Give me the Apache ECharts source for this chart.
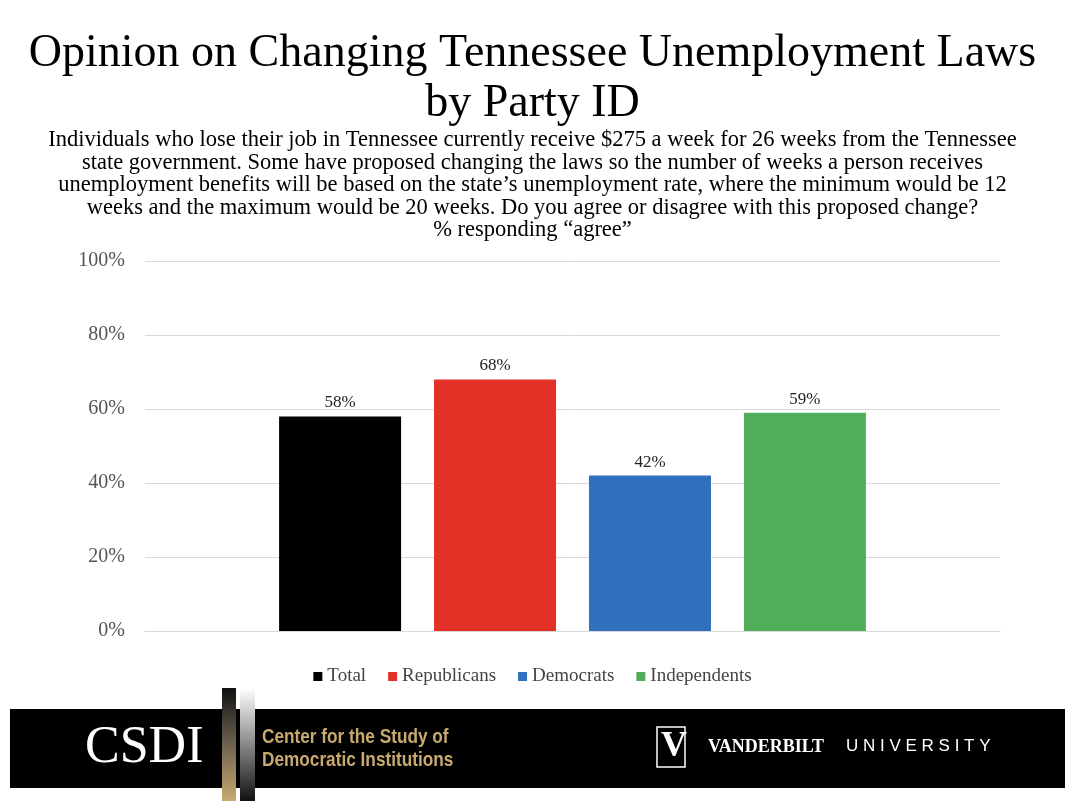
<!DOCTYPE html>
<html><head><meta charset="utf-8">
<script src="https://cdn.jsdelivr.net/npm/echarts@6/dist/echarts.min.js"></script>
<style>html,body{margin:0;padding:0;background:#fff}#c{width:1065px;height:801px}</style>
</head><body><div id="c"></div>
<script>
const seriesNames = ['Total','Republicans','Democrats','Independents'];
const values = [58, 68, 42, 59];
const colors = ['#000000','#e33127','#3070bf','#50ae5b'];
const yTicks = [0,20,40,60,80,100];
const F = 'Liberation Serif, serif';
const chart = echarts.init(document.getElementById('c'));
const subtitle = "Individuals who lose their job in Tennessee currently receive $275 a week for 26 weeks from the Tennessee\nstate government. Some have proposed changing the laws so the number of weeks a person receives\nunemployment benefits will be based on the state’s unemployment rate, where the minimum would be 12\nweeks and the maximum would be 20 weeks. Do you agree or disagree with this proposed change?\n% responding “agree”";
chart.setOption({
  animation:false,
  title:[{text:'Opinion on Changing Tennessee Unemployment Laws\nby Party ID',left:'center',top:24,
    textStyle:{fontFamily:F,fontWeight:'normal',fontSize:46,lineHeight:50,color:'#000'}},
    {text:subtitle,left:'center',top:124,textStyle:{fontFamily:F,fontWeight:'normal',fontSize:22.5,lineHeight:22.5,color:'#000'}}],
  legend:{bottom:110,itemWidth:9,itemHeight:9,itemGap:22,icon:'rect',textStyle:{fontFamily:F,fontSize:19,color:'#444'},data:seriesNames},
  grid:{left:145,right:65,top:261,bottom:170,containLabel:false},
  xAxis:{type:'category',data:[''],axisLine:{lineStyle:{color:'#d9d9d9'}},axisTick:{show:false},axisLabel:{show:false}},
  yAxis:{type:'value',min:0,max:100,interval:20,axisLine:{show:false},axisTick:{show:false},
    splitLine:{lineStyle:{color:'#d9d9d9'}},
    axisLabel:{formatter:v=>v+'%',fontFamily:F,fontSize:20,color:'#555',margin:20}},
  series:seriesNames.map((n,i)=>({name:n,type:'bar',barWidth:122,barGap:'27%',
    data:[values[i]],itemStyle:{color:colors[i]},
    label:{show:true,position:'top',formatter:'{c}%',fontFamily:F,fontSize:17,color:'#222'}})),
  graphic:[
    {type:'rect',shape:{x:10,y:709,width:1055,height:79},style:{fill:'#000'}},
    {type:'rect',shape:{x:222,y:688,width:14,height:113},style:{fill:new echarts.graphic.LinearGradient(0,0,0,1,[{offset:0,color:'#111'},{offset:0.5,color:'#6e6250'},{offset:1,color:'#c8a96e'}])}},
    {type:'rect',shape:{x:240,y:688,width:15,height:113},style:{fill:new echarts.graphic.LinearGradient(0,0,0,1,[{offset:0,color:'#ffffff'},{offset:0.5,color:'#888'},{offset:1,color:'#111'}])}},
    {type:'text',x:85,y:722,style:{text:'CSDI',font:'52px Liberation Serif',fill:'#fff'}},
    {type:'text',x:262,y:726,scaleX:0.82,style:{text:'Center for the Study of\nDemocratic Institutions',font:'bold 21px Liberation Sans',lineHeight:23,fill:'#c8a96e'}},
    {type:'rect',shape:{x:657,y:727,width:28,height:40},style:{fill:'none',stroke:'#fff',lineWidth:1.5}},
    {type:'text',x:661,y:729,style:{text:'V',font:'bold 36px Liberation Serif',fill:'#fff'}},
    {type:'text',x:708,y:738,style:{text:'VANDERBILT',font:'bold 18px Liberation Serif',fill:'#fff'}},
    {type:'text',x:846,y:738,style:{text:'U N I V E R S I T Y',font:'17px Liberation Sans',fill:'#fff'}}
  ]
});
</script></body></html>
